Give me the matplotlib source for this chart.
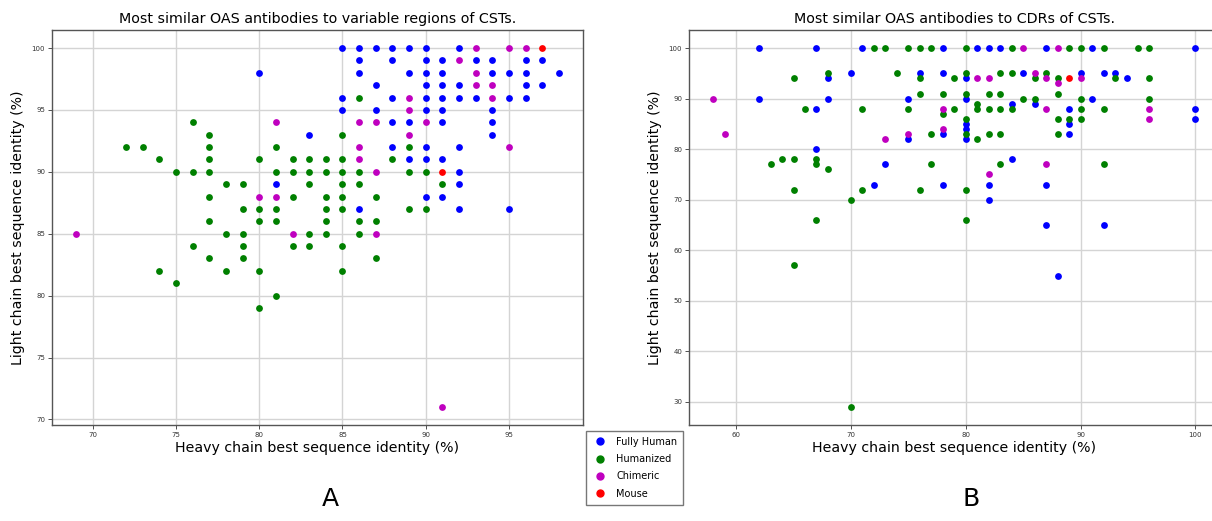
import matplotlib
matplotlib.use("Agg")
import matplotlib.pyplot as plt
from matplotlib.lines import Line2D

# ---- panel A: variable regions (heavy %, light %) ----
a_human_x = [80, 83, 81,
             85, 86, 87, 88, 89, 90, 92,
             86, 88, 90, 91, 93, 94, 96, 97,
             86, 89, 90, 91, 94, 95, 96, 98,
             87, 90, 91, 92, 96, 97,
             85, 88, 90, 91, 92, 93, 95, 96,
             85, 87, 90, 91, 94,
             88, 89, 91, 94,
             94,
             88, 90, 92,
             89, 90, 91,
             92, 92,
             90, 91,
             86, 92, 95]
a_human_y = [98, 93, 89,
             100, 100, 100, 100, 100, 100, 100,
             99, 99, 99, 99, 99, 99, 99, 99,
             98, 98, 98, 98, 98, 98, 98, 98,
             97, 97, 97, 97, 97, 97,
             96, 96, 96, 96, 96, 96, 96, 96,
             95, 95, 95, 95, 95,
             94, 94, 94, 94,
             93,
             92, 92, 92,
             91, 91, 91,
             90, 89,
             88, 88,
             87, 87, 87]

a_humanized_x = [76, 86, 77, 85, 72, 73, 77, 81, 89,
                 74, 77, 80, 82, 83, 84, 85, 88,
                 75, 76, 77, 81, 82, 83, 84, 85, 86, 89, 90,
                 78, 79, 83, 85, 86, 91,
                 77, 82, 84, 85, 87,
                 79, 80, 81, 84, 85, 89, 90,
                 77, 80, 81, 84, 86, 87,
                 78, 79, 83, 84, 86,
                 76, 79, 82, 83, 85,
                 77, 79, 87,
                 74, 78, 80, 85,
                 75, 81, 80]
a_humanized_y = [94, 96, 93, 93, 92, 92, 92, 92, 92,
                 91, 91, 91, 91, 91, 91, 91, 91,
                 90, 90, 90, 90, 90, 90, 90, 90, 90, 90, 90,
                 89, 89, 89, 89, 89, 89,
                 88, 88, 88, 88, 88,
                 87, 87, 87, 87, 87, 87, 87,
                 86, 86, 86, 86, 86, 86,
                 85, 85, 85, 85, 85,
                 84, 84, 84, 84, 84,
                 83, 83, 83,
                 82, 82, 82, 82,
                 81, 80, 79]

a_chimeric_x = [93, 95, 96, 92, 93, 93, 94, 89, 94, 89, 81, 86, 87, 90,
                89, 86, 95, 86, 87, 80, 81, 69, 82, 87, 91]
a_chimeric_y = [100, 100, 100, 99, 98, 97, 97, 96, 96, 95, 94, 94, 94, 94,
                93, 92, 92, 91, 90, 88, 88, 85, 85, 85, 71]

a_mouse_x = [97, 91]
a_mouse_y = [100, 90]

# ---- panel B: CDRs (heavy %, light %) ----
b_human_x = [62, 67, 71, 78, 81, 82, 83, 87, 91, 100,
             70, 76, 78, 85, 90, 92, 93,
             68, 80, 94,
             62, 68, 75, 80, 91,
             84, 86,
             67, 89, 100,
             100,
             80, 89,
             80,
             78, 89,
             75, 80,
             67, 84, 73,
             72, 78, 82, 87,
             82, 87, 92, 88]
b_human_y = [100, 100, 100, 100, 100, 100, 100, 100, 100, 100,
             95, 95, 95, 95, 95, 95, 95,
             94, 94, 94,
             90, 90, 90, 90, 90,
             89, 89,
             88, 88, 88,
             86,
             85, 85,
             84,
             83, 83,
             82, 82,
             80, 78, 77,
             73, 73, 73, 73,
             70, 65, 65, 55]

b_humanized_x = [72, 73, 75, 76, 77, 80, 84, 89, 90, 92, 95, 96,
                 68, 74, 80, 83, 84, 87,
                 65, 76, 79, 86, 88, 93, 96,
                 76, 78, 80, 82, 83, 88,
                 85, 86, 90, 96,
                 81,
                 66, 71, 75, 79, 81, 82, 83, 84, 90, 92,
                 78,
                 80, 88, 89, 90,
                 77, 80, 82, 83, 88,
                 81,
                 64, 65, 67,
                 63, 67, 77, 83, 92,
                 68,
                 65, 71, 76, 80,
                 70, 67, 80, 65, 70]
b_humanized_y = [100, 100, 100, 100, 100, 100, 100, 100, 100, 100, 100, 100,
                 95, 95, 95, 95, 95, 95,
                 94, 94, 94, 94, 94, 94, 94,
                 91, 91, 91, 91, 91, 91,
                 90, 90, 90, 90,
                 89,
                 88, 88, 88, 88, 88, 88, 88, 88, 88, 88,
                 87,
                 86, 86, 86, 86,
                 83, 83, 83, 83, 83,
                 82,
                 78, 78, 78,
                 77, 77, 77, 77, 77,
                 76,
                 72, 72, 72, 72,
                 70, 66, 66, 57, 29]

b_chimeric_x = [85, 88, 86, 81, 82, 87, 90, 88, 58, 78, 87, 96, 96,
                78, 59, 75, 73, 87, 82]
b_chimeric_y = [100, 100, 95, 94, 94, 94, 94, 93, 90, 88, 88, 88, 86,
                84, 83, 83, 82, 77, 75]

b_mouse_x = [89]
b_mouse_y = [94]

groups = ["Fully Human", "Humanized", "Chimeric", "Mouse"]
colors = ["b", "g", "m", "r"]

fig = plt.figure(figsize=(12.12, 5.21), dpi=100)
axA = fig.add_axes([0.0429, 0.1843, 0.4381, 0.758])
axB = fig.add_axes([0.5685, 0.1843, 0.4377, 0.758])

dataA = [(a_human_x, a_human_y), (a_humanized_x, a_humanized_y),
         (a_chimeric_x, a_chimeric_y), (a_mouse_x, a_mouse_y)]
dataB = [(b_human_x, b_human_y), (b_humanized_x, b_humanized_y),
         (b_chimeric_x, b_chimeric_y), (b_mouse_x, b_mouse_y)]

for ax, data, title in [(axA, dataA, "Most similar OAS antibodies to variable regions of CSTs."),
                        (axB, dataB, "Most similar OAS antibodies to CDRs of CSTs.")]:
    ax.set_axisbelow(True)
    ax.grid(True, color="#d4d4d4", lw=1)
    for (x, y), c, lab in zip(data, colors, groups):
        ax.scatter(x, y, s=24, c=c, label=lab, linewidths=0)
    ax.set_title(title, fontsize=10.3, pad=5)
    ax.set_xlabel("Heavy chain best sequence identity (%)", fontsize=10.2, labelpad=2)
    ax.set_ylabel("Light chain best sequence identity (%)", fontsize=10.2, labelpad=5)
    ax.tick_params(labelsize=5, colors="#333333", length=3, width=0.6, pad=2)
    for sp in ax.spines.values():
        sp.set_color("#555555")
        sp.set_linewidth(1)

handles = [Line2D([], [], ls="", marker="o", ms=5, color=c, mec=c) for c in colors]
fig.legend(handles, groups, loc="upper left", bbox_to_anchor=(0.4835, 0.1727),
           borderaxespad=0, fontsize=7, frameon=True, fancybox=False,
           edgecolor="#555555", handletextpad=0.9, handlelength=1.6,
           borderpad=0.6, labelspacing=0.75)

fig.text(0.2722, 0.019, "A", fontsize=18, ha="center", va="bottom")
fig.text(0.801, 0.019, "B", fontsize=18, ha="center", va="bottom")

fig.savefig("out.png", dpi=100)
